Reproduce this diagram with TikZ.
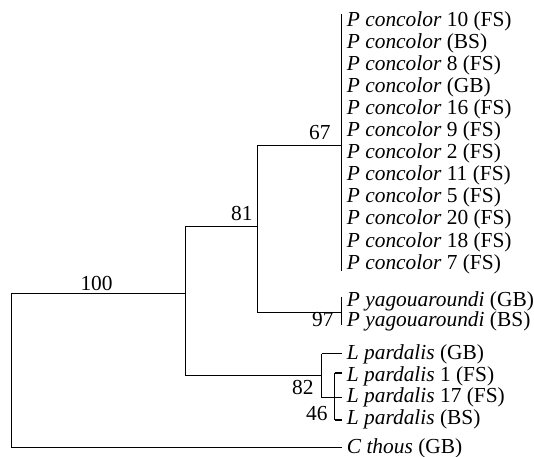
\documentclass[tikz,border=0pt]{standalone}
\usepackage{fontspec}
\setmainfont{Liberation Serif}
\usepackage{tikz}
\usetikzlibrary{positioning}

\begin{document}
\begin{tikzpicture}[x=0.5pt,y=-0.5pt,
  leaf/.style={anchor=west,inner xsep=2.5pt,inner ysep=0pt,text height=7.5pt,text depth=1.5pt,font=\fontsize{10.7}{12}\selectfont},
  bs/.style={anchor=east,inner sep=0pt,font=\fontsize{10.7}{12}\selectfont},
  br/.style={line width=0.65pt}]
\useasboundingbox (0,0) rectangle (534,456);
\node[leaf] (c10) at (341.5,20)    {\textit{P concolor} 10 (FS)};
\node[leaf] (cBS) at (341.5,42.1)  {\textit{P concolor} (BS)};
\node[leaf] (c8)  at (341.5,64.2)  {\textit{P concolor} 8 (FS)};
\node[leaf] (cGB) at (341.5,86.3)  {\textit{P concolor} (GB)};
\node[leaf] (c16) at (341.5,108.4) {\textit{P concolor} 16 (FS)};
\node[leaf] (c9)  at (341.5,130.5) {\textit{P concolor} 9 (FS)};
\node[leaf] (c2)  at (341.5,152.6) {\textit{P concolor} 2 (FS)};
\node[leaf] (c11) at (341.5,174.7) {\textit{P concolor} 11 (FS)};
\node[leaf] (c5)  at (341.5,196.8) {\textit{P concolor} 5 (FS)};
\node[leaf] (c20) at (341.5,218.9) {\textit{P concolor} 20 (FS)};
\node[leaf] (c18) at (341.5,241)   {\textit{P concolor} 18 (FS)};
\node[leaf] (c7)  at (341.5,263.1) {\textit{P concolor} 7 (FS)};
\node[leaf] (yGB) at (341.5,300)   {\textit{P yagouaroundi} (GB)};
\node[leaf] (yBS) at (341.5,320.5) {\textit{P yagouaroundi} (BS)};
\node[leaf] (lGB) at (341.5,353.5) {\textit{L pardalis} (GB)};
\node[leaf] (l1)  at (341.5,375)   {\textit{L pardalis} 1 (FS)};
\node[leaf] (l17) at (341.5,396.5) {\textit{L pardalis} 17 (FS)};
\node[leaf] (lBS) at (341.5,418)   {\textit{L pardalis} (BS)};
\node[leaf] (tGB) at (341.5,447.5) {\textit{C thous} (GB)};
\coordinate (n67)  at (341.5,145.5);
\coordinate (n97)  at (341.5,312.5);
\coordinate (n81)  at (257.5,226.5);
\coordinate (n82)  at (321.5,375.5);
\coordinate (n100) at (185.5,293.5);
\coordinate (root) at (11.5,447.5);
\draw[br] ([yshift=3pt]c10.west) -- ([yshift=-4pt]c7.west);
\draw[br] ([yshift=1.7pt]yGB.west) -- ([yshift=-2.2pt]yBS.west);
\draw[br] (n81) |- (n67);
\draw[br] (n81) |- (n97);
\draw[br] (n100) |- (n81);
\draw[br] (n100) |- (n82);
\draw[br] (n100) -| (root) -- (tGB.west);
\draw[br] ([xshift=-10pt]lGB.west) -- (lGB.west);
\draw[br] ([xshift=-10pt]lGB.west) |- ([yshift=-0.5pt]l17.west);
\draw[br] ([xshift=-3.5pt,yshift=1pt]l1.west) -- ([xshift=-3.5pt,yshift=-1pt]lBS.west);
\draw[br] ([xshift=-3.5pt,yshift=1pt]l1.west) -- ([yshift=1pt]l1.west);
\draw[br] ([xshift=-3.5pt,yshift=-1pt]lBS.west) -- ([yshift=-1pt]lBS.west);
\node[bs] (b100) at (113,283) {100};
\node[bs] (b81)  at (253,213) {81};
\node[bs] (b67)  at (331,133) {67};
\node[bs] (b97)  at (334,320) {97};
\node[bs] (b82)  at (314,387) {82};
\node[bs] (b46)  at (328,414) {46};
\end{tikzpicture}
\end{document}
